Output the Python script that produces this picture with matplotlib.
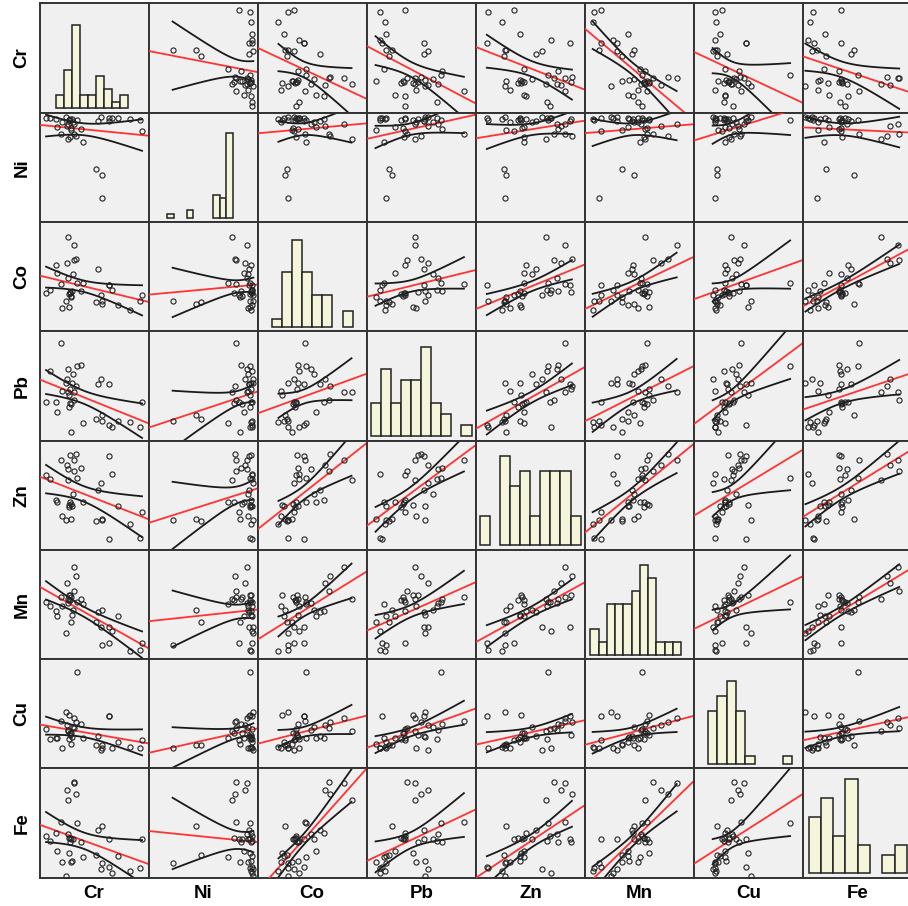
import numpy as np
import matplotlib
matplotlib.use("Agg")
import matplotlib.pyplot as plt

plt.rcParams['font.family'] = ['Liberation Sans', 'DejaVu Sans']

variables = ['Cr', 'Ni', 'Co', 'Pb', 'Zn', 'Mn', 'Cu', 'Fe']

Cr = [32, 32, 25, 33, 26, 20, 34, 57, 54, 15, 26, 6, 27, 29, 28, 31, 10, 38,
      64, 94, 16, 27, 52, 40, 72, 30, 21, 57, 64, 56, 92, 83, 66, 24, 28, 29]
Ni = [80, 90, 88, 79, 76, 80, 93, 43, 92, 94, 90, 95, 93, 86, 94, 91, 95, 85,
      92, 83, 87, 93, 48, 73, 95, 94, 91, 22, 95, 96, 93, 94, 95, 96, 78, 84]
Co = [65, 79, 62, 66, 86, 43, 44, 25, 57, 61, 49, 35, 34, 32, 36, 52, 38, 37,
      42, 33, 53, 22, 27, 44, 24, 37, 21, 28, 42, 33, 28, 19, 38, 28, 35, 31]
Pb = [37, 44, 56, 50, 44, 89, 68, 23, 52, 35, 65, 35, 31, 33, 47, 61, 64, 69,
      52, 35, 26, 42, 20, 16, 18, 53, 45, 18, 14, 56, 12, 17, 12, 53, 34, 8]
Zn = [72, 82, 78, 88, 64, 82, 66, 28, 55, 46, 74, 68, 39, 42, 87, 51, 65, 75,
      86, 35, 44, 41, 26, 44, 40, 40, 31, 27, 10, 61, 11, 24, 69, 27, 44, 28]
Mn = [62, 84, 70, 76, 55, 57, 52, 45, 43, 44, 51, 52, 54, 57, 59, 45, 49, 55,
      29, 15, 39, 59, 34, 50, 39, 40, 49, 13, 15, 29, 8, 7, 26, 24, 54, 34]
Cu = [37, 46, 40, 42, 34, 43, 88, 21, 30, 28, 35, 36, 27, 32, 31, 38, 27, 41,
      48, 26, 28, 49, 21, 28, 24, 29, 19, 19, 48, 17, 19, 20, 19, 52, 32, 22]
Fe = [88, 87, 80, 77, 71, 51, 50, 47, 44, 41, 40, 38, 36, 35, 33, 35, 34, 33,
      35, 35, 24, 23, 21, 19, 20, 15, 14, 13, 10, 8, 9, 6, 4, 2, 36, 14]

# histogram counts
hist_Cr = [2, 6, 13, 2, 2, 5, 3, 1, 2]
hist_Ni = [1, 0, 0, 2, 0, 0, 0, 6, 5, 22]
hist_Co = [1, 7, 11, 7, 4, 4, 0, 2]
hist_Pb = [3, 6, 3, 5, 5, 8, 3, 2, 0, 1]
hist_Zn = [2, 0, 6, 4, 5, 2, 5, 5, 5, 2]
hist_Mn = [2, 1, 4, 4, 4, 5, 7, 6, 1, 1, 1]
hist_Cu = [7, 9, 11, 7, 1, 0, 0, 0, 1]
hist_Fe = [6, 8, 4, 10, 3, 0, 2, 3]

data = dict(Cr=Cr, Ni=Ni, Co=Co, Pb=Pb, Zn=Zn, Mn=Mn, Cu=Cu, Fe=Fe)
hists = dict(Cr=hist_Cr, Ni=hist_Ni, Co=hist_Co, Pb=hist_Pb, Zn=hist_Zn,
             Mn=hist_Mn, Cu=hist_Cu, Fe=hist_Fe)
# histogram axis range (data units) and top fraction of the tallest bar
hist_range = dict(Cr=(15.3, 80.7), Ni=(16.8, 77.4), Co=(13, 87), Pb=(4, 96),
                  Zn=(3.7, 96), Mn=(5, 88), Cu=(12.8, 90), Fe=(5, 95))
hist_top = dict(Cr=0.80, Ni=0.81, Co=0.83, Pb=0.86, Zn=0.86, Mn=0.86, Cu=0.80, Fe=0.90)

W, H = 908, 906
fig = plt.figure(figsize=(W / 100, H / 100), dpi=100)
fig.patch.set_facecolor('white')

left0, top0, cw, ch = 39.5, 3.3, 109.1, 109.3
BG = '#f0f0f0'
EDGE = '#333333'
RED = '#ff3333'
t_crit = 2.03

for r, vy in enumerate(variables):
    for c, vx in enumerate(variables):
        x0 = left0 + c * cw
        y0 = top0 + (r + 1) * ch
        ax = fig.add_axes([x0 / W, (H - y0) / H, cw / W, ch / H])
        ax.set_facecolor(BG)
        for s in ax.spines.values():
            s.set_color(EDGE)
            s.set_linewidth(1.4)
        ax.set_xticks([])
        ax.set_yticks([])
        if r == c:
            counts = np.array(hists[vx], dtype=float)
            lo, hi = hist_range[vx]
            edges = np.linspace(lo, hi, len(counts) + 1)
            widths = np.diff(edges)
            nz = counts > 0
            ax.bar(edges[:-1][nz], counts[nz], width=widths[nz], align='edge',
                   color='#f5f5dc', edgecolor='#222222', linewidth=1.1)
            R = counts.max() / (hist_top[vx] - 0.04)
            ax.set_ylim(-0.04 * R, 0.96 * R)
            ax.set_xlim(0, 100)
        else:
            x = np.array(data[vx], dtype=float)
            y = np.array(data[vy], dtype=float)
            ax.set_xlim(0, 100)
            ax.set_ylim(0, 100)
            m = len(x)
            xb = x.mean()
            Sxx = ((x - xb) ** 2).sum()
            b = ((x - xb) * (y - y.mean())).sum() / Sxx
            a = y.mean() - b * xb
            res = y - (a + b * x)
            s = np.sqrt((res ** 2).sum() / (m - 2))
            xs = np.linspace(x.min(), x.max(), 100)
            yh = a + b * xs
            se = t_crit * s * np.sqrt(1.0 / m + (xs - xb) ** 2 / Sxx)
            ax.plot(xs, yh + se, color='#1a1a1a', lw=1.3, zorder=2)
            ax.plot(xs, yh - se, color='#1a1a1a', lw=1.3, zorder=2)
            xl = np.array([0, 100])
            ax.plot(xl, a + b * xl, color=RED, lw=1.3, zorder=3)
            ax.plot(x, y, 'o', mfc='none', mec='#222222', ms=3.7, mew=0.8, zorder=4)

# labels
for i, v in enumerate(variables):
    yc = top0 + (i + 0.5) * ch
    fig.text(22 / W, 1 - yc / H, v, rotation=90, ha='center', va='center',
             fontsize=13.5, fontweight='bold')
    xc = left0 + (i + 0.5) * cw
    fig.text(xc / W, 1 - 894 / H, v, ha='center', va='center',
             fontsize=13.5, fontweight='bold')

fig.savefig('out.png', dpi=100)
